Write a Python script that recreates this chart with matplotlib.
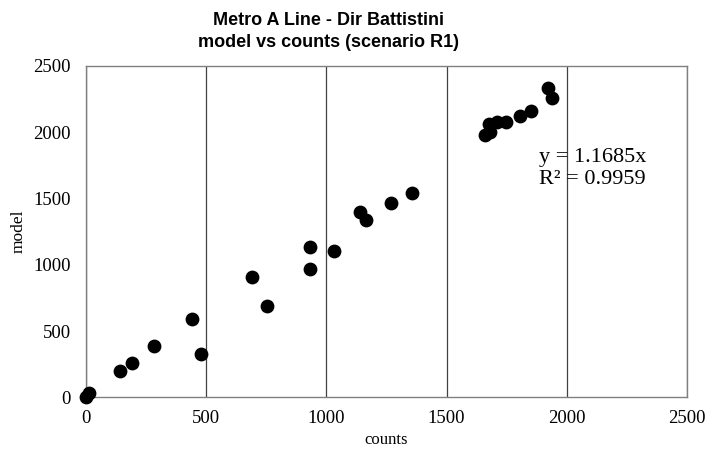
import matplotlib
matplotlib.use("Agg")
from matplotlib import pyplot as plt
import numpy as np

# counts vs model flows
counts = [0, 14, 141, 190, 284, 440, 478, 692, 754,
          933, 933, 1030, 1141, 1165, 1268, 1355,
          1658, 1680, 1677, 1708, 1746, 1806, 1851, 1920, 1940]
model = [0, 35, 196, 257, 387, 589, 327, 905, 687,
         1133, 967, 1107, 1397, 1337, 1467, 1541,
         1983, 2001, 2064, 2081, 2074, 2125, 2163, 2331, 2261]

x_ticks = [0, 500, 1000, 1500, 2000, 2500]
y_ticks = [0, 500, 1000, 1500, 2000, 2500]

trend_text = "y = 1.1685x\nR\u00b2 = 0.9959"

serif = "Liberation Serif"
sans = "Liberation Sans"

fig = plt.figure(figsize=(7.07, 4.51), dpi=100)
ax = fig.add_axes([0.1216, 0.119, 0.8501, 0.7347])

ax.scatter(counts, model, s=80, color="black", zorder=3, clip_on=False)

ax.set_xlim(0, 2500)
ax.set_ylim(0, 2500)
ax.set_xticks(x_ticks)
ax.set_yticks(y_ticks)
ax.xaxis.grid(True, color="#404040", linewidth=0.9)
ax.yaxis.grid(False)
ax.set_axisbelow(True)

for s in ax.spines.values():
    s.set_color("#808080")
    s.set_linewidth(1.0)

ax.tick_params(length=0, labelsize=13.5)
ax.tick_params(axis="x", pad=9)
ax.tick_params(axis="y", pad=11)
for lab in ax.get_xticklabels() + ax.get_yticklabels():
    lab.set_fontfamily(serif)

ax.set_xlabel("counts", fontsize=12, family=serif, labelpad=4)
ax.set_ylabel("model", fontsize=12.5, family=serif, labelpad=5)

# title sits left of the plot centre in the original
fig.text(0.464, 0.930, "Metro A Line - Dir Battistini\nmodel vs counts (scenario R1)",
         fontsize=13, fontweight="bold", family=sans, linespacing=1.35,
         ha="center", va="center")

ax.text(1885, 1728, trend_text, fontsize=16, family=serif,
        linespacing=1.2, va="center", ha="left")

fig.savefig("out.png", dpi=100)
